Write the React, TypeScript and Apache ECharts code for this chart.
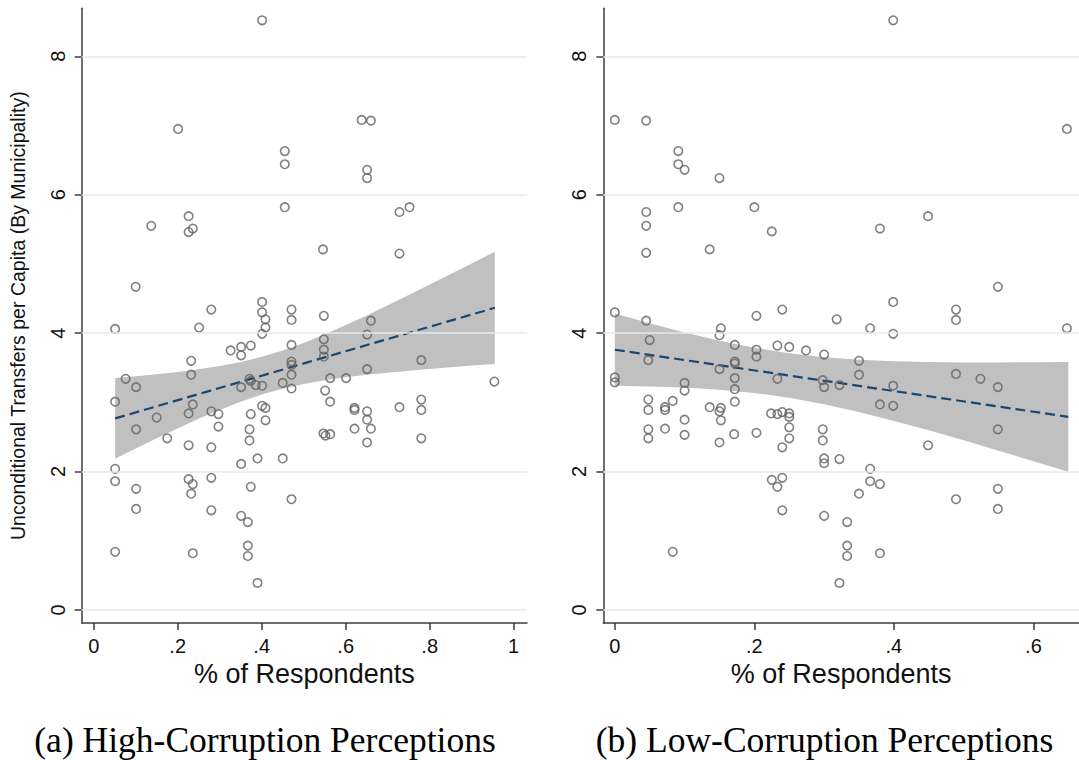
import React, { useEffect, useRef } from "react";
import * as echarts from "echarts";

// Panel (a): share of respondents reporting high corruption vs. transfers
const highX = [
  0.401, 0.201, 0.455, 0.455, 0.455, 0.226, 0.226, 0.236, 0.137, 0.1,
  0.401, 0.401, 0.409, 0.471, 0.471, 0.28, 0.051, 0.251, 0.409, 0.401,
  0.638, 0.66, 0.651, 0.651, 0.728, 0.752, 0.546, 0.728, 0.548, 0.66,
  0.326, 0.351, 0.351, 0.374, 0.471, 0.232, 0.232, 0.076, 0.101, 0.051,
  0.15, 0.101, 0.175, 0.236, 0.226, 0.28, 0.297, 0.297, 0.226, 0.28,
  0.351, 0.371, 0.374, 0.386, 0.401, 0.45, 0.471, 0.471, 0.471, 0.401,
  0.409, 0.409, 0.374, 0.371, 0.371, 0.351, 0.39, 0.45, 0.051, 0.051,
  0.101, 0.226, 0.236, 0.232, 0.28, 0.374, 0.471, 0.101, 0.28, 0.351,
  0.367, 0.367, 0.367, 0.051, 0.236, 0.39, 0.548, 0.548, 0.548, 0.651,
  0.563, 0.601, 0.651, 0.78, 0.954, 0.551, 0.563, 0.621, 0.621, 0.651,
  0.651, 0.66, 0.621, 0.651, 0.728, 0.78, 0.78, 0.78, 0.547, 0.552,
  0.563, 0.471,
];
const highY = [
  8.52, 6.95, 6.63, 6.44, 5.82, 5.69, 5.46, 5.51, 5.55, 4.67,
  4.45, 4.3, 4.2, 4.34, 4.19, 4.34, 4.06, 4.08, 4.08, 3.99,
  7.08, 7.07, 6.36, 6.24, 5.75, 5.82, 5.21, 5.15, 4.25, 4.18,
  3.75, 3.8, 3.68, 3.82, 3.83, 3.6, 3.4, 3.34, 3.22, 3.01,
  2.78, 2.61, 2.48, 2.97, 2.84, 2.87, 2.83, 2.65, 2.38, 2.35,
  3.22, 3.34, 3.31, 3.25, 3.24, 3.28, 3.59, 3.4, 3.2, 2.95,
  2.92, 2.74, 2.83, 2.61, 2.45, 2.11, 2.19, 2.19, 2.04, 1.86,
  1.75, 1.89, 1.82, 1.68, 1.91, 1.78, 1.6, 1.46, 1.44, 1.36,
  1.27, 0.93, 0.78, 0.84, 0.82, 0.39, 3.91, 3.76, 3.66, 3.98,
  3.35, 3.35, 3.48, 3.61, 3.3, 3.17, 3.01, 2.92, 2.89, 2.87,
  2.75, 2.62, 2.62, 2.42, 2.93, 3.04, 2.89, 2.48, 2.55, 2.52,
  2.54, 3.54,
];
const highFitX = [0.051, 0.955];
const highFitY = [2.768, 4.366];
const highBandX = [
  0.051, 0.1, 0.15, 0.2, 0.25, 0.3, 0.35, 0.4, 0.45, 0.5,
  0.55, 0.6, 0.65, 0.7, 0.75, 0.8, 0.85, 0.9, 0.955,
];
const highBandLower = [
  2.186, 2.333, 2.48, 2.623, 2.762, 2.891, 3.01, 3.112, 3.196, 3.265,
  3.318, 3.362, 3.398, 3.429, 3.458, 3.483, 3.508, 3.531, 3.555,
];
const highBandUpper = [
  3.35, 3.377, 3.406, 3.439, 3.478, 3.525, 3.584, 3.658, 3.75, 3.859,
  3.982, 4.116, 4.256, 4.401, 4.55, 4.701, 4.854, 5.007, 5.177,
];
const highXTicks = [0, 0.2, 0.4, 0.6, 0.8, 1];

// Panel (b): share of respondents reporting low corruption vs. transfers
const lowX = [
  0.0, 0.045, 0.091, 0.091, 0.1, 0.15, 0.045, 0.091, 0.2, 0.045,
  0.225, 0.136, 0.045, 0.0, 0.045, 0.203, 0.24, 0.152, 0.399, 0.648,
  0.449, 0.38, 0.549, 0.399, 0.489, 0.489, 0.318, 0.366, 0.399, 0.648,
  0.15, 0.05, 0.172, 0.203, 0.203, 0.233, 0.25, 0.274, 0.048, 0.172,
  0.172, 0.15, 0.0, 0.0, 0.172, 0.172, 0.1, 0.1, 0.233, 0.048,
  0.083, 0.172, 0.048, 0.072, 0.072, 0.136, 0.152, 0.15, 0.152, 0.1,
  0.224, 0.233, 0.24, 0.25, 0.25, 0.25, 0.25, 0.24, 0.203, 0.171,
  0.15, 0.1, 0.048, 0.048, 0.072, 0.225, 0.233, 0.24, 0.24, 0.083,
  0.3, 0.35, 0.35, 0.298, 0.3, 0.322, 0.399, 0.38, 0.399, 0.489,
  0.524, 0.549, 0.549, 0.298, 0.298, 0.3, 0.3, 0.322, 0.449, 0.366,
  0.366, 0.38, 0.35, 0.549, 0.489, 0.549, 0.3, 0.333, 0.333, 0.333,
  0.38, 0.322,
];
const lowY = [
  7.08, 7.07, 6.63, 6.44, 6.36, 6.24, 5.75, 5.82, 5.82, 5.55,
  5.47, 5.21, 5.16, 4.3, 4.18, 4.25, 4.34, 4.07, 8.52, 6.95,
  5.69, 5.51, 4.67, 4.45, 4.34, 4.19, 4.2, 4.07, 3.99, 4.07,
  3.97, 3.9, 3.83, 3.76, 3.66, 3.82, 3.8, 3.75, 3.61, 3.59,
  3.56, 3.48, 3.36, 3.29, 3.35, 3.19, 3.28, 3.17, 3.34, 3.04,
  3.02, 3.01, 2.89, 2.93, 2.89, 2.93, 2.92, 2.87, 2.74, 2.75,
  2.84, 2.83, 2.86, 2.84, 2.79, 2.64, 2.48, 2.35, 2.56, 2.54,
  2.42, 2.53, 2.61, 2.48, 2.62, 1.88, 1.78, 1.91, 1.44, 0.84,
  3.69, 3.6, 3.4, 3.32, 3.22, 3.25, 3.24, 2.97, 2.95, 3.41,
  3.34, 3.22, 2.61, 2.61, 2.45, 2.19, 2.12, 2.18, 2.38, 2.04,
  1.86, 1.82, 1.68, 1.75, 1.6, 1.46, 1.36, 1.27, 0.93, 0.78,
  0.82, 0.39,
];
const lowFitX = [0, 0.65];
const lowFitY = [3.76, 2.79];
const lowBandX = [
  0, 0.05, 0.1, 0.15, 0.2, 0.25, 0.3, 0.35, 0.4, 0.45, 0.5, 0.55, 0.6, 0.65,
];
const lowBandLower = [
  3.238, 3.229, 3.213, 3.183, 3.136, 3.066, 2.972, 2.86, 2.732, 2.595,
  2.451, 2.301, 2.15, 1.996,
];
const lowBandUpper = [
  4.282, 4.141, 4.009, 3.889, 3.788, 3.708, 3.652, 3.616, 3.594, 3.583,
  3.577, 3.577, 3.58, 3.584,
];
const lowXTicks = [0, 0.2, 0.4, 0.6];

const yTicks = [0, 2, 4, 6, 8];

const yTitle = "Unconditional Transfers per Capita (By Municipality)";
const xTitle = "% of Respondents";
const captionA = "(a) High-Corruption Perceptions";
const captionB = "(b) Low-Corruption Perceptions";

const SANS = "'Liberation Sans', Arial, Helvetica, sans-serif";
const SERIF = "'Liberation Serif', 'Times New Roman', serif";
const AXIS_COLOR = "#3c3c3c";
const GRID_COLOR = "#e3ebed";
const MARKER_COLOR = "#626262";
const BAND_COLOR = "#c0c0c0";
const FIT_COLOR = "#1a476f";

const stataNum = (v: number) => {
  const r = Math.round(v * 10) / 10;
  if (r === 0) return "0";
  const s = String(r);
  return s.startsWith("0.") ? s.slice(1) : s;
};

function makeXAxis(gridIndex: number, min: number, max: number, ticks: number[]) {
  return {
    type: "value",
    gridIndex,
    min,
    max,
    name: xTitle,
    nameLocation: "middle",
    nameGap: 30,
    nameTextStyle: { fontFamily: SANS, fontSize: 27, color: "#111" },
    axisLine: { show: true, onZero: false, lineStyle: { color: AXIS_COLOR, width: 1.5 } },
    axisTick: { show: true, length: 7, customValues: ticks, lineStyle: { color: AXIS_COLOR, width: 1.5 } },
    axisLabel: {
      customValues: ticks,
      formatter: stataNum,
      fontFamily: SANS,
      fontSize: 20,
      color: "#111",
      margin: 13,
    },
    splitLine: { show: false },
  };
}

function makeYAxis(gridIndex: number, withName: boolean) {
  return {
    type: "value",
    gridIndex,
    min: -0.188,
    max: 8.693,
    name: withName ? yTitle : "",
    nameLocation: "middle",
    nameRotate: 90,
    nameGap: 54,
    nameTextStyle: { fontFamily: SANS, fontSize: 19.5, color: "#111" },
    axisLine: { show: true, onZero: false, lineStyle: { color: AXIS_COLOR, width: 1.5 } },
    axisTick: { show: true, length: 7, customValues: yTicks, lineStyle: { color: AXIS_COLOR, width: 1.5 } },
    axisLabel: {
      customValues: yTicks,
      formatter: stataNum,
      rotate: 90,
      fontFamily: SANS,
      fontSize: 20,
      color: "#111",
      margin: 14,
    },
    splitLine: { show: false },
  };
}

function panelSeries(
  idx: number,
  xs: number[],
  ys: number[],
  fitX: number[],
  fitY: number[],
  bandX: number[],
  bandLo: number[],
  bandHi: number[]
) {
  return [
    {
      // horizontal grid lines at the labelled y values
      type: "scatter",
      xAxisIndex: idx,
      yAxisIndex: idx,
      data: [],
      z: 0,
      silent: true,
      markLine: {
        silent: true,
        symbol: ["none", "none"],
        label: { show: false },
        lineStyle: { color: GRID_COLOR, width: 1.5, type: "solid" },
        data: yTicks.map((v) => ({ yAxis: v })),
      },
    },
    {
      // confidence band of the linear fit
      type: "custom",
      xAxisIndex: idx,
      yAxisIndex: idx,
      z: 1,
      silent: true,
      data: [[bandX[0], bandLo[0]]],
      renderItem: (_params: any, api: any) => {
        const pts: number[][] = [];
        for (let i = 0; i < bandX.length; i++) pts.push(api.coord([bandX[i], bandLo[i]]));
        for (let i = bandX.length - 1; i >= 0; i--) pts.push(api.coord([bandX[i], bandHi[i]]));
        return { type: "polygon", shape: { points: pts }, style: { fill: BAND_COLOR } };
      },
    },
    {
      type: "line",
      xAxisIndex: idx,
      yAxisIndex: idx,
      z: 2,
      silent: true,
      symbol: "none",
      data: fitX.map((x, i) => [x, fitY[i]]),
      lineStyle: { color: FIT_COLOR, width: 2.2, type: [10, 5] },
    },
    {
      type: "scatter",
      xAxisIndex: idx,
      yAxisIndex: idx,
      z: 3,
      symbol: "circle",
      symbolSize: 8.5,
      data: xs.map((x, i) => [x, ys[i]]),
      itemStyle: { color: "rgba(0,0,0,0)", borderColor: MARKER_COLOR, borderWidth: 1.6 },
    },
  ];
}

export default function App() {
  const ref = useRef<HTMLDivElement>(null);

  useEffect(() => {
    if (!ref.current) return;
    const chart = echarts.init(ref.current, undefined, { renderer: "svg" });
    chart.setOption({
      animation: false,
      backgroundColor: "#ffffff",
      grid: [
        { left: 81.7, top: 8.3, width: 445.3, height: 614.7 },
        { left: 603.3, top: 8.3, width: 482.7, height: 614.7 },
      ],
      xAxis: [
        makeXAxis(0, -0.0286, 1.0317, highXTicks),
        makeXAxis(1, -0.0165, 0.6653, lowXTicks),
      ],
      yAxis: [makeYAxis(0, true), makeYAxis(1, false)],
      series: [
        ...panelSeries(0, highX, highY, highFitX, highFitY, highBandX, highBandLower, highBandUpper),
        ...panelSeries(1, lowX, lowY, lowFitX, lowFitY, lowBandX, lowBandLower, lowBandUpper),
      ],
      graphic: [
        {
          type: "text",
          x: 265,
          y: 740,
          style: {
            text: captionA,
            font: `35.5px ${SERIF}`,
            fill: "#000",
            align: "center",
            verticalAlign: "middle",
            textAlign: "center",
            textVerticalAlign: "middle",
          },
        },
        {
          type: "text",
          x: 824.5,
          y: 740,
          style: {
            text: captionB,
            font: `35.5px ${SERIF}`,
            fill: "#000",
            align: "center",
            verticalAlign: "middle",
            textAlign: "center",
            textVerticalAlign: "middle",
          },
        },
      ],
    });
    return () => chart.dispose();
  }, []);

  return (
    <div
      ref={ref}
      style={{ position: "absolute", left: 0, top: 0, width: 1079, height: 760, background: "#fff" }}
    />
  );
}
